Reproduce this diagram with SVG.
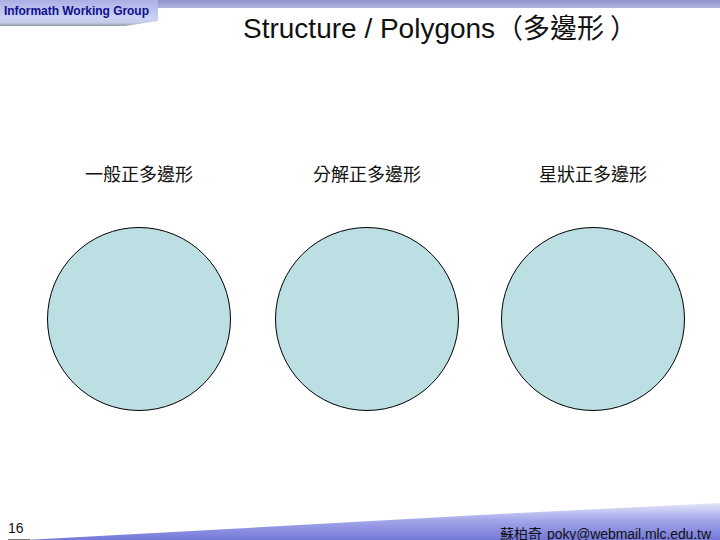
<svg xmlns="http://www.w3.org/2000/svg" width="720" height="540" viewBox="0 0 720 540">
<defs>
<linearGradient id="top" x1="0" y1="0" x2="0" y2="1"><stop offset="0" stop-color="#8e93cc"/><stop offset="1" stop-color="#aeb3dc"/></linearGradient>
<linearGradient id="tab" x1="0" y1="0" x2="0" y2="1"><stop offset="0" stop-color="#aab0e4"/><stop offset="0.7" stop-color="#ccd2f6"/><stop offset="0.88" stop-color="#c4cae8"/><stop offset="1" stop-color="#8f9a9a"/></linearGradient>
<linearGradient id="bot" x1="0" y1="0" x2="0" y2="1"><stop offset="0" stop-color="#e4e6fa"/><stop offset="0.45" stop-color="#a4a8ea"/><stop offset="1" stop-color="#7478d8"/></linearGradient>
</defs>
<style>
.c{fill:#bbdfe3;stroke:#000;stroke-width:1}
.l{font-family:"Liberation Sans","Noto Sans CJK TC",sans-serif;font-size:18px;fill:#111;text-anchor:middle}
</style>
<rect id="top-band" x="0" y="0" width="720" height="8" fill="url(#top)"/>
<path id="tab-shape" d="M0 0H158V21L125 26H0Z" fill="url(#tab)"/>
<text x="4" y="15" font-family="'Liberation Sans',sans-serif" font-size="12" font-weight="bold" fill="#10108c" textLength="145">Informath Working Group</text>
<path id="bottom-band" d="M720 503V540H25L210 530L480 515Z" fill="url(#bot)"/>
<path d="M8 539.5H30" stroke="#777" stroke-width="1"/>
<text x="8" y="533" font-family="'Liberation Sans',sans-serif" font-size="14" fill="#111">16</text>
<text x="500" y="539" font-family="'Liberation Sans','Noto Sans CJK TC',sans-serif" font-size="14" fill="#111">蘇柏奇</text>
<text x="547" y="539" font-family="'Liberation Sans',sans-serif" font-size="14" fill="#111" textLength="164">poky@webmail.mlc.edu.tw</text>
<text x="243" y="38" font-family="'Liberation Sans',sans-serif" font-size="28" fill="#111">Structure / Polygons</text>
<text x="523" y="38" font-family="'Noto Sans CJK TC',sans-serif" font-size="27" fill="#111">多邊形</text>
<text x="496" y="38" font-family="'Noto Sans CJK TC',sans-serif" font-size="27" fill="#111">（</text>
<text x="610" y="38" font-family="'Noto Sans CJK TC',sans-serif" font-size="27" fill="#111">）</text>
<g id="node-1"><text class="l" x="139" y="181">一般正多邊形</text><circle class="c" cx="139" cy="319" r="91.5"/></g>
<g id="node-2"><text class="l" x="367" y="181">分解正多邊形</text><circle class="c" cx="367" cy="319" r="91.5"/></g>
<g id="node-3"><text class="l" x="593" y="181">星狀正多邊形</text><circle class="c" cx="593" cy="319" r="91.5"/></g>
</svg>
